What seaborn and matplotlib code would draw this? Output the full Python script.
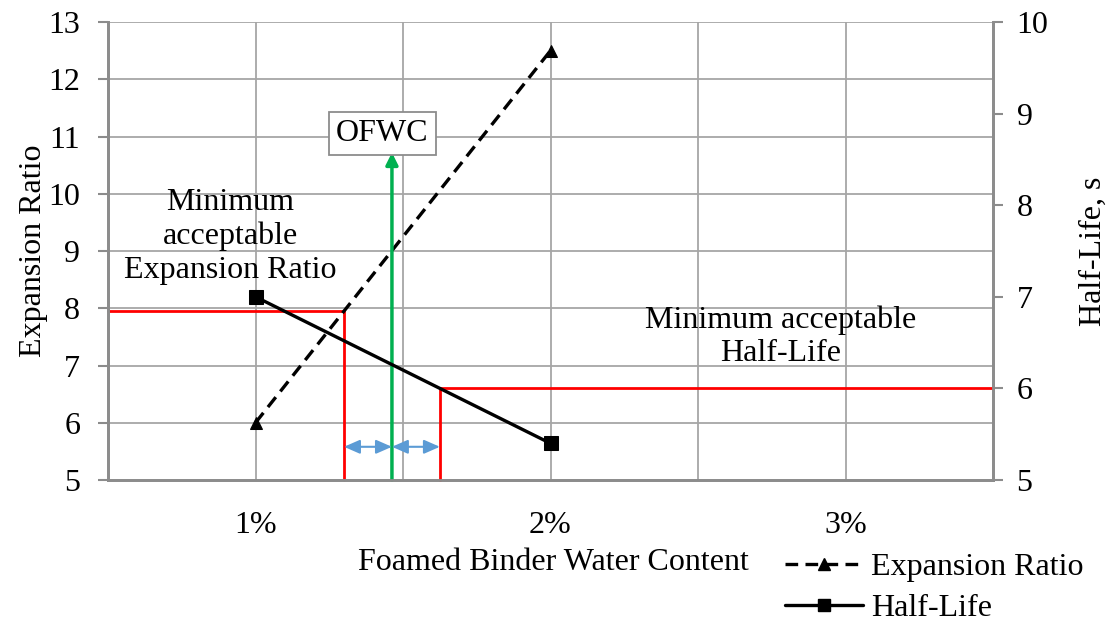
import numpy as np
import pandas as pd
import matplotlib
matplotlib.use("Agg")
import matplotlib.pyplot as plt
import seaborn as sns
from matplotlib.lines import Line2D

# ---- data ----
water_content = [1, 2]            # foamed binder water content, %
expansion_ratio = [6.0, 12.5]
half_life = [7.0, 5.4]
min_expansion = 7.95
min_half_life = 6.0
x_tick_labels = ["", "1%", "", "2%", "", "3%", ""]

sns.set_theme(style="white")
plt.rcParams['font.family'] = ['Liberation Serif', 'DejaVu Serif']
for k in ["text.color", "axes.labelcolor", "xtick.color", "ytick.color"]:
    plt.rcParams[k] = "black"
FS = 23

er_x = np.interp(min_expansion, expansion_ratio, water_content)
hl_x = np.interp(min_half_life, half_life[::-1], water_content[::-1])
ofwc_x = (er_x + hl_x) / 2

df_er = pd.DataFrame({"x": water_content, "y": expansion_ratio})
df_hl = pd.DataFrame({"x": water_content, "y": half_life})

fig = plt.figure(figsize=(11.09, 6.24), dpi=100)
ax = fig.add_axes([108/1109, 1-480/624, (993-108)/1109, (480-22)/624])
ax2 = ax.twinx()

grid_c = "#a6a6a6"
spine_c = "#8c8c8c"

ax.set_xlim(0.5, 3.5)
ax.set_ylim(5, 13)
ax2.set_ylim(5, 10)
ax.set_xticks(np.arange(0.5, 3.51, 0.5))
ax.set_xticklabels(x_tick_labels, fontsize=FS)
ax.set_yticks(range(5, 14))
ax.tick_params(axis='y', labelsize=FS, direction='out', length=7, color=spine_c, width=1.5, pad=13, labelcolor="black")
ax.tick_params(axis='x', labelsize=FS, direction='in', length=5, color=spine_c, width=1.5, pad=22, labelcolor="black")
ax2.set_yticks(range(5, 11))
ax2.tick_params(axis='y', labelsize=FS, direction='out', length=7, color=spine_c, width=1.5, pad=10, labelcolor="black")

for y in range(6, 14):
    ax.axhline(y, color=grid_c, lw=1.3, zorder=0)
for x in [1, 1.5, 2, 2.5, 3]:
    ax.axvline(x, color=grid_c, lw=1.3, zorder=0)

for a in (ax, ax2):
    a.spines["top"].set_visible(False)
    for s in ["left", "right", "bottom"]:
        a.spines[s].set_color(spine_c)
        a.spines[s].set_linewidth(2)

# red limit lines
ax.plot([0.5, er_x, er_x], [min_expansion, min_expansion, 5], color="#ff0000", lw=2, zorder=2, clip_on=False)
ax2.plot([3.5, hl_x, hl_x], [min_half_life, min_half_life, 5], color="#ff0000", lw=2, zorder=2, clip_on=False)

# series
sns.lineplot(data=df_er, x="x", y="y", ax=ax, color="black", lw=2.4, marker="^",
             markersize=9, markeredgecolor="black", zorder=5, legend=False)
ax.lines[-1].set_linestyle((0, (3.8, 2.2)))
sns.lineplot(data=df_hl, x="x", y="y", ax=ax2, color="black", lw=2.4, marker="s",
             markersize=10, markeredgecolor="black", zorder=5, legend=False)
ax.set_xlim(0.5, 3.5)
ax.set_xlabel("Foamed Binder Water Content", fontsize=FS, color="black", va="center")
ax.xaxis.set_label_coords((553-108)/885, -(562-480)/458)
ax.set_ylabel("Expansion Ratio", fontsize=FS, color="black", labelpad=0)
ax2.set_ylabel("Half-Life, s", fontsize=FS, color="black", labelpad=22)

# OFWC arrow
ax.annotate("", xy=(ofwc_x, 10.72), xytext=(ofwc_x, 5),
            arrowprops=dict(arrowstyle="-|>,head_length=0.6,head_width=0.3", color="#00b050", lw=2.5,
                            shrinkA=0, shrinkB=0), zorder=6)
ax.text(1.43, 11.06, "OFWC", fontsize=FS, ha="center", va="center",
        bbox=dict(boxstyle="square,pad=0.22", fc="white", ec="#8c8c8c", lw=1.3), zorder=7)

# blue double arrows
for x0, x1 in [(er_x, ofwc_x), (ofwc_x, hl_x)]:
    ax.annotate("", xy=(x1, 5.58), xytext=(x0, 5.58),
                arrowprops=dict(arrowstyle="<|-|>,head_length=0.8,head_width=0.35", color="#5b9bd5", lw=1.5,
                                shrinkA=0, shrinkB=0), zorder=6)

ax.text(0.915, 9.25, "Minimum\nacceptable\nExpansion Ratio", fontsize=FS, ha="center", va="center",
        linespacing=1.22, zorder=7)
ax.text(2.78, 7.5, "Minimum acceptable\nHalf-Life", fontsize=FS, ha="center", va="center",
        linespacing=1.2, zorder=7)

handles = [Line2D([], [], color="black", lw=2.4, ls=(0, (3.8, 2.2)), marker="^", markersize=8),
           Line2D([], [], color="black", lw=2.4, marker="s", markersize=9)]
fig.legend(handles, ["Expansion Ratio", "Half-Life"], loc="upper left",
           bbox_to_anchor=(772/1109, 1-540/624), frameon=False, fontsize=FS,
           handlelength=2.45, handletextpad=0.25, labelspacing=0.35, borderaxespad=0)

fig.savefig("out.png", dpi=100)
